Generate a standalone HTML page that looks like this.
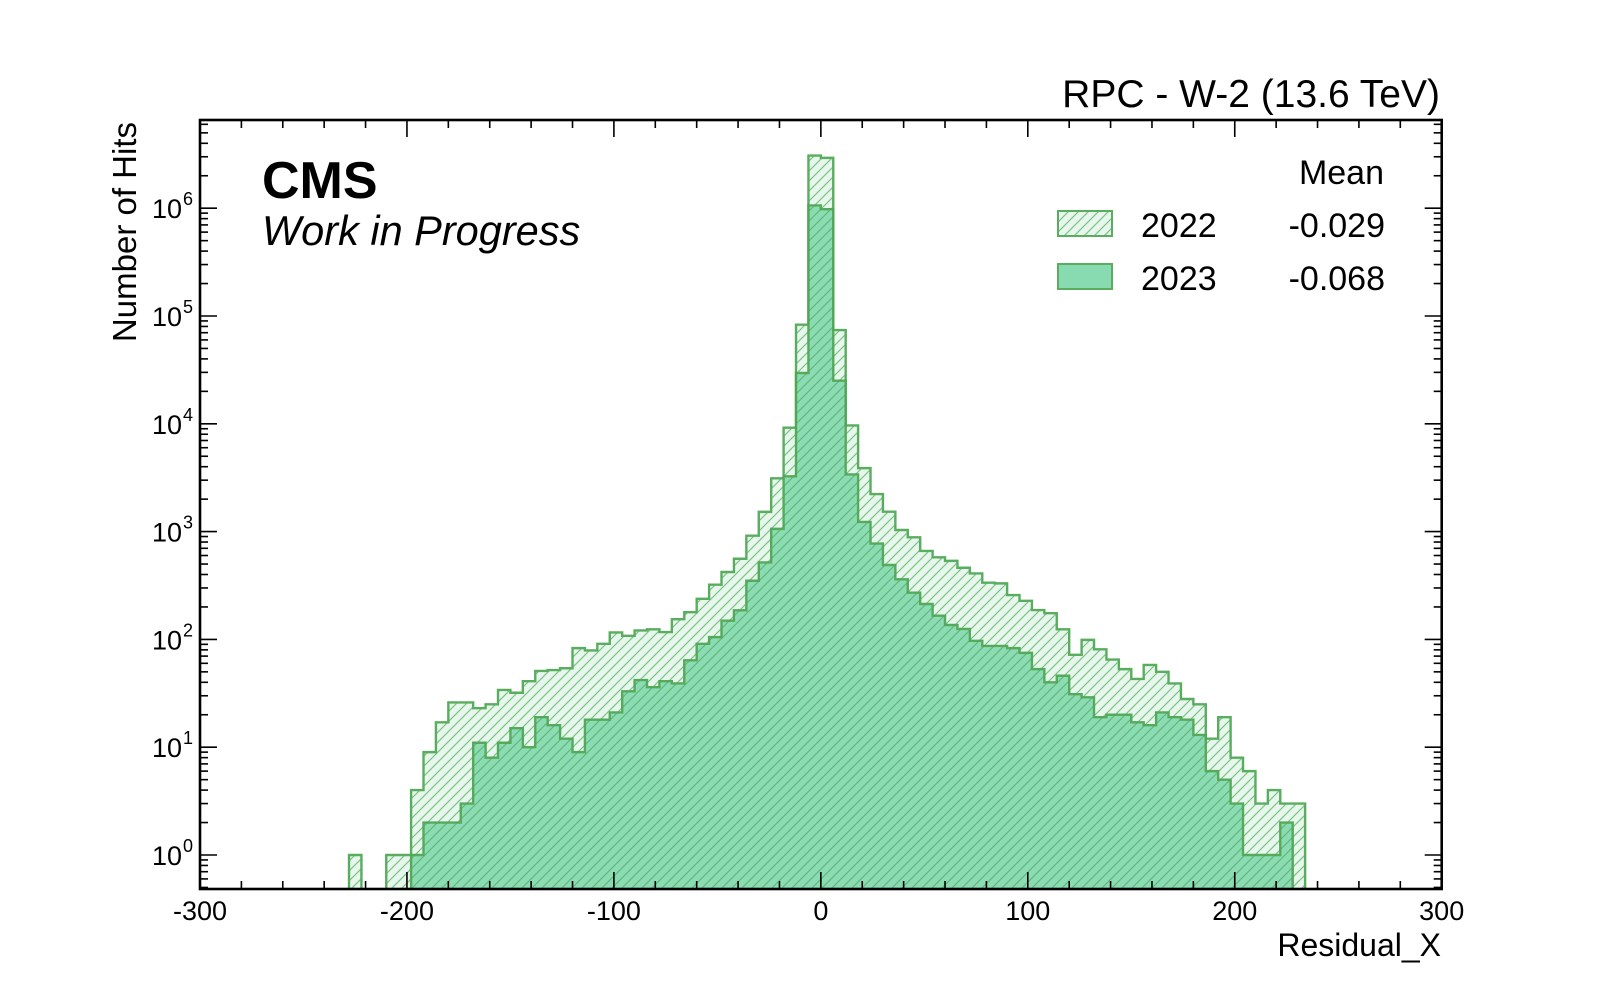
<!DOCTYPE html>
<html><head><meta charset="utf-8"><style>
html,body{margin:0;padding:0;background:#fff;}
svg{display:block;font-family:"Liberation Sans",Arial,sans-serif;}
</style></head><body>
<svg id="chart" width="1600" height="1000" viewBox="0 0 1600 1000" xmlns="http://www.w3.org/2000/svg">
<defs>
<pattern id="hatchLight" patternUnits="userSpaceOnUse" width="10" height="10">
<rect width="10" height="10" fill="#e8f7ee"/>
<path d="M-2,12 L12,-2 M-2,2 L2,-2 M8,12 L12,8" stroke="#7cc483" stroke-width="1.2"/>
</pattern>
<pattern id="hatchDark" patternUnits="userSpaceOnUse" width="10" height="10">
<rect width="10" height="10" fill="#88dbb0"/>
<path d="M-2,12 L12,-2 M-2,2 L2,-2 M8,12 L12,8" stroke="#5fb87c" stroke-width="1.2"/>
</pattern>
<clipPath id="plotClip"><rect x="200" y="120" width="1241.7" height="769"/></clipPath>
</defs>
<g id="marks" clip-path="url(#plotClip)"></g>
<g id="axes"></g>
<text x="262" y="198" font-size="52" font-weight="bold">CMS</text>
<text x="262" y="245" font-size="41.5" font-style="italic">Work in Progress</text>
<text x="1440" y="107" font-size="39" text-anchor="end">RPC - W-2 (13.6 TeV)</text>
<text transform="translate(136,122) rotate(-90)" font-size="33" text-anchor="end">Number of Hits</text>
<text x="1441" y="956" font-size="32" text-anchor="end">Residual_X</text>
<g>
<text x="1384" y="184" font-size="34" text-anchor="end">Mean</text>
<rect x="1058" y="211" width="54" height="25" fill="url(#hatchLight)" stroke="#5aad5f" stroke-width="2"/>
<text x="1141" y="237" font-size="34">2022</text>
<text x="1385" y="237" font-size="34" text-anchor="end">-0.029</text>
<rect x="1058" y="264" width="54" height="25" fill="#88dbb0" stroke="#5aad5f" stroke-width="2"/>
<text x="1141" y="290" font-size="34">2023</text>
<text x="1385" y="290" font-size="34" text-anchor="end">-0.068</text>
</g>
</svg>
<script>
const binStart = -228;
const binWidth = 6;
const counts2022 = [1,0,0,1,1,4,9,17,26,26,23,25,34,32,41,51,52,54,83,79,91,116,108,121,124,117,154,179,238,322,422,560,916,1524,3120,9200,83000,3080000,2930000,74000,9660,3880,2230,1530,1035,885,661,577,535,462,409,336,331,258,228,187,175,124,72,99,81,65,53,43,58,50,39,28,25,12,19,8,6,3,4,3,3];
const counts2023 = [0,0,0,0,0,1,2,2,2,3,11,8,11,15,10,19,16,12,9,18,18,21,33,42,36,41,39,64,91,105,149,186,350,517,1060,3260,29600,1060000,980000,25100,3390,1230,774,490,361,271,213,166,136,125,97,87,87,83,75,53,40,46,31,29,19,20,20,17,16,21,19,18,13,6,5,3,1,1,1,2,0];
const xTicks = [-300,-200,-100,0,100,200,300];
const yDecades = [0,1,2,3,4,5,6];

const L=200,R=1441.7,T=120,B=889;
const xMin=-300,xMax=300;
const y0=855, dec=107.8;
function X(v){return L+(v-xMin)/(xMax-xMin)*(R-L);}
function Y(v){return v>0? y0-Math.log10(v)*dec : B+5;}
const NS="http://www.w3.org/2000/svg";
function mk(tag,attrs,parent){const e=document.createElementNS(NS,tag);for(const k in attrs)e.setAttribute(k,attrs[k]);parent.appendChild(e);return e;}

const marks=document.getElementById('marks');
function histPath(counts){
  let d="M"+X(binStart)+","+(B+5);
  counts.forEach((c,i)=>{
    const x0=X(binStart+i*binWidth), x1=X(binStart+(i+1)*binWidth), y=Y(c);
    d+=" L"+x0+","+y+" L"+x1+","+y;
  });
  d+=" L"+X(binStart+counts.length*binWidth)+","+(B+5)+" Z";
  return d;
}
const h22=mk('path',{d:histPath(counts2022),fill:"url(#hatchLight)",stroke:"#5aad5f","stroke-width":"2.4","stroke-linejoin":"miter"},marks);


const h23=mk('path',{d:histPath(counts2023),fill:"url(#hatchDark)",stroke:"#4fa655","stroke-width":"2.4","stroke-linejoin":"miter",opacity:"0.95"},marks);



const axes=document.getElementById('axes');
const frame=mk('rect',{x:L,y:T,width:R-L,height:B-T,fill:"none",stroke:"#000","stroke-width":"2.6"},axes);


for(let v=-300;v<=300;v+=20){
  const major=(v%100===0), len=major?17:8, x=X(v);
  const t1=mk('line',{x1:x,x2:x,y1:B,y2:B-len,stroke:"#000","stroke-width":"1.6"},axes);
  
  
  const t2=mk('line',{x1:x,x2:x,y1:T,y2:T+len,stroke:"#000","stroke-width":"1.6"},axes);
  
  
}
xTicks.forEach(v=>{
  const t=mk('text',{x:X(v),y:920,"font-size":"27","text-anchor":"middle"},axes);
  t.textContent=String(v);
  
  
});
for(let d=-1;d<=7;d++){
  for(let m=1;m<10;m++){
    const v=m*Math.pow(10,d), y=Y(v);
    if(y<T||y>B) continue;
    const len=(m===1)?17:8;
    const a=mk('line',{x1:L,x2:L+len,y1:y,y2:y,stroke:"#000","stroke-width":"1.6"},axes);
    
    
    const b=mk('line',{x1:R,x2:R-len,y1:y,y2:y,stroke:"#000","stroke-width":"1.6"},axes);
    
    
  }
}
yDecades.forEach(p=>{
  const y=Y(Math.pow(10,p));
  const t=mk('text',{x:182,y:y+10,"font-size":"27","text-anchor":"end"},axes);
  t.textContent="10";
  
  
  const s=mk('text',{x:183,y:y-3,"font-size":"18","text-anchor":"start"},axes);
  s.textContent=String(p);
  
  
});
</script>
</body></html>
